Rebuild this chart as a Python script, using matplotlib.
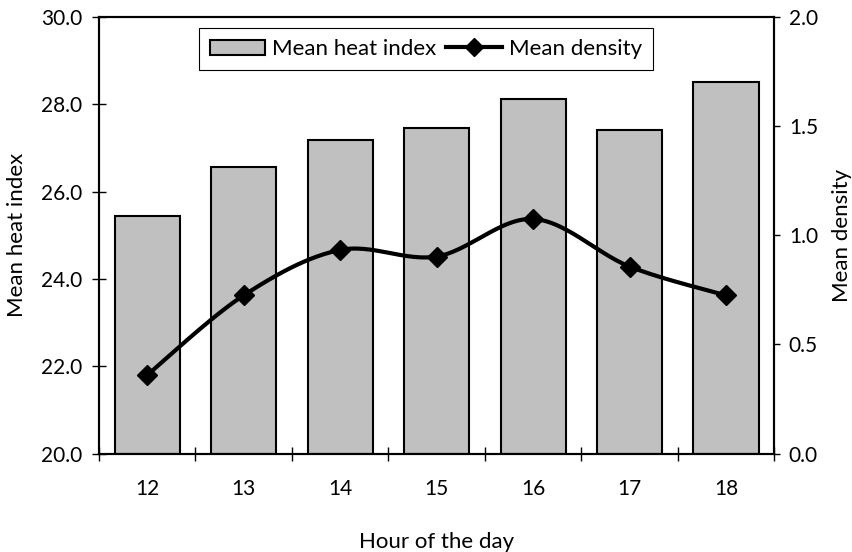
import numpy as np
import matplotlib
matplotlib.use('Agg')
import matplotlib.pyplot as plt
from matplotlib.lines import Line2D
from matplotlib.patches import Patch

plt.rcParams['font.family'] = ['Lato', 'DejaVu Sans']

hours = ['12', '13', '14', '15', '16', '17', '18']
heat_index = [25.45, 26.57, 27.19, 27.46, 28.13, 27.42, 28.51]
density = [0.36, 0.725, 0.933, 0.903, 1.075, 0.857, 0.725]

FS = 16
TS = 15


def smooth(xs, ys, n=30):
    # catmull-rom style smoothing like a spreadsheet "smoothed line"
    xs = np.asarray(xs, float)
    ys = np.asarray(ys, float)
    px = np.concatenate([[xs[0]], xs, [xs[-1]]])
    py = np.concatenate([[ys[0]], ys, [ys[-1]]])
    outx, outy = [], []
    t = np.linspace(0, 1, n)
    for i in range(1, len(px) - 2):
        x0, x1, x2, x3 = px[i - 1:i + 3]
        y0, y1, y2, y3 = py[i - 1:i + 3]
        c1x, c1y = x1 + (x2 - x0) / 6, y1 + (y2 - y0) / 6
        c2x, c2y = x2 - (x3 - x1) / 6, y2 - (y3 - y1) / 6
        bx = (1 - t) ** 3 * x1 + 3 * (1 - t) ** 2 * t * c1x + 3 * (1 - t) * t ** 2 * c2x + t ** 3 * x2
        by = (1 - t) ** 3 * y1 + 3 * (1 - t) ** 2 * t * c1y + 3 * (1 - t) * t ** 2 * c2y + t ** 3 * y2
        outx.extend(bx)
        outy.extend(by)
    return np.array(outx), np.array(outy)


fig = plt.figure(figsize=(8.52, 5.52), dpi=100)
ax1 = fig.add_axes([0.1162, 0.1784, 0.7925, 0.7905])
ax2 = ax1.twinx()

x = np.arange(len(hours))
ax1.bar(x, np.array(heat_index) - 20, bottom=20, width=0.675, color='#c0c0c0',
        edgecolor='black', linewidth=1.5, zorder=2)
ax1.set_ylim(20, 30)
ax1.set_xlim(-0.5, len(hours) - 0.5)
ax1.set_yticks(np.arange(20, 30.1, 2))
ax1.set_yticklabels(['%.1f' % v for v in np.arange(20, 30.1, 2)])
ax1.set_xticks(x)
ax1.set_xticklabels(hours)
ax1.set_xticks(np.arange(-0.5, len(hours)), minor=True)
ax1.tick_params(axis='x', which='major', length=0, pad=18, labelsize=TS)
ax1.tick_params(axis='x', which='minor', direction='inout', length=10, width=1)
ax1.tick_params(axis='y', direction='inout', length=10, width=1, labelsize=TS, pad=7)
ax1.set_ylabel('Mean heat index', fontsize=FS, labelpad=10)
ax1.set_xlabel('Hour of the day', fontsize=FS, labelpad=24)

sx, sy = smooth(x, density)
ax2.plot(sx, sy, color='black', linewidth=3, zorder=3)
ax2.plot(x, density, linestyle='none', marker='D', markersize=10.5, color='black', zorder=4)
ax2.set_ylim(0, 2)
ax2.set_yticks(np.arange(0, 2.01, 0.5))
ax2.set_yticklabels(['%.1f' % v for v in np.arange(0, 2.01, 0.5)])
ax2.tick_params(axis='y', direction='out', length=4.5, width=1, labelsize=TS, pad=6)
ax2.set_ylabel('Mean density', fontsize=FS, labelpad=10)

for ax in (ax1, ax2):
    for s in ax.spines.values():
        s.set_linewidth(1.5)
        s.set_color('black')

handles = [Patch(facecolor='#c0c0c0', edgecolor='black', linewidth=1.5),
           Line2D([0], [0], color='black', linewidth=3, marker='D', markersize=9)]
leg = ax2.legend(handles, ['Mean heat index', 'Mean density'], loc='upper center',
                 bbox_to_anchor=(0.484, 0.975), borderaxespad=0, ncol=2, fontsize=FS,
                 frameon=True, fancybox=False, edgecolor='black', framealpha=1,
                 handlelength=2.5, handletextpad=0.3, columnspacing=0.45,
                 borderpad=0.5)
leg.get_frame().set_linewidth(0.8)

fig.savefig('out.png', dpi=100)
